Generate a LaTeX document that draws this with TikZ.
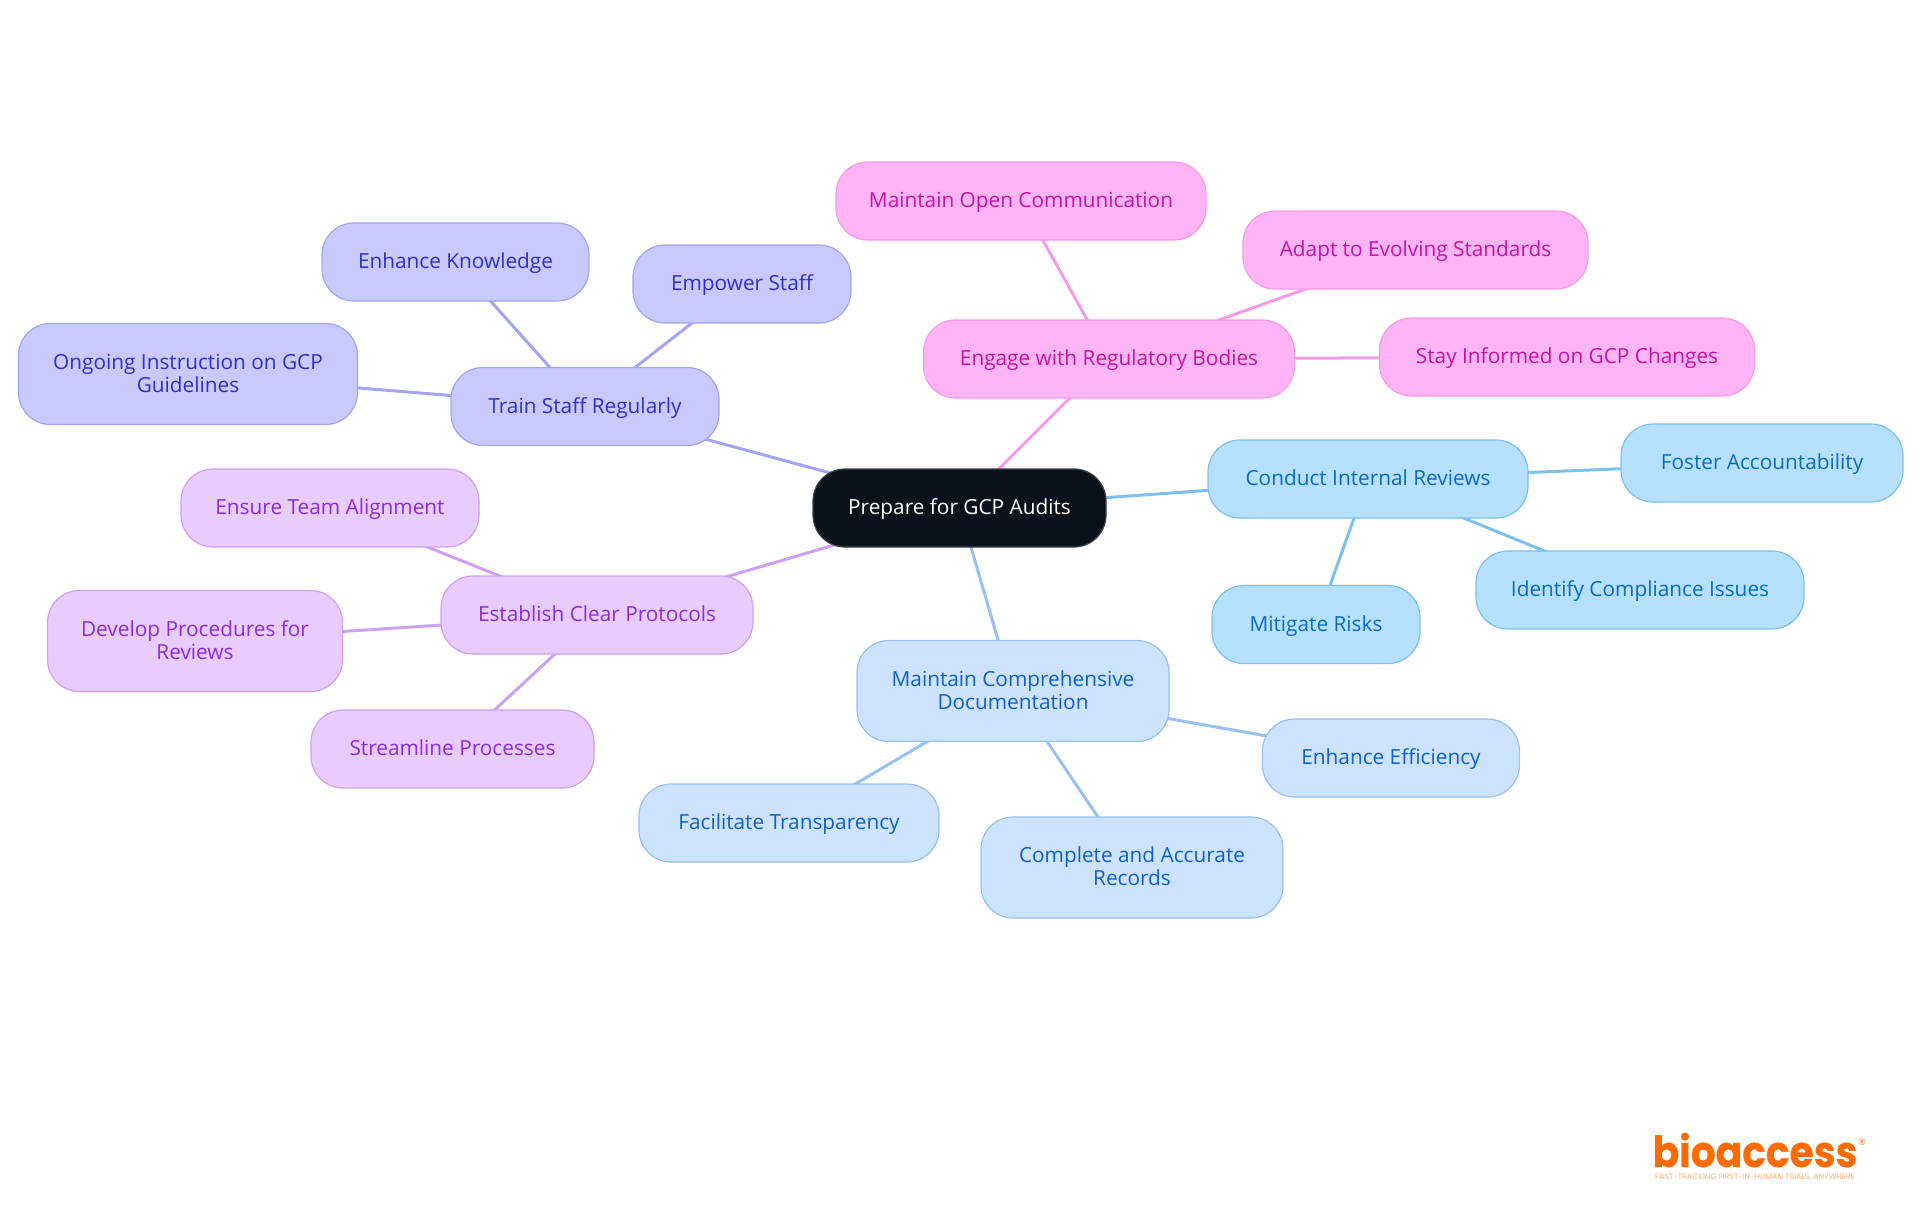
\documentclass[tikz,border=0pt]{standalone}
\usepackage{fontspec}
\setmainfont{Open Sans}
\newfontfamily\logofont[FakeStretch=0.91, FakeBold=0.4]{Poppins}
\newfontfamily\tagfont{Poppins}
\usetikzlibrary{backgrounds}
\definecolor{rootfill}{HTML}{0B111B}
\definecolor{trainfill}{HTML}{C8C9FD}
\definecolor{trainline}{HTML}{A3A4F3}
\definecolor{traintext}{HTML}{3030C8}
\definecolor{engagefill}{HTML}{FFB5F5}
\definecolor{engageline}{HTML}{F59BE6}
\definecolor{engagetext}{HTML}{C414A8}
\definecolor{reviewfill}{HTML}{B5E0FF}
\definecolor{reviewline}{HTML}{7CBFF0}
\definecolor{reviewtext}{HTML}{0A6BC0}
\definecolor{docfill}{HTML}{CDE3FD}
\definecolor{docline}{HTML}{96C1F1}
\definecolor{doctext}{HTML}{1060C8}
\definecolor{protofill}{HTML}{E8CCFE}
\definecolor{protoline}{HTML}{CFA0F2}
\definecolor{prototext}{HTML}{8A2BE0}
\definecolor{logoorange}{HTML}{FF6B00}

\begin{document}
\begin{tikzpicture}[x=0.5pt, y=-0.5pt]
        % ================= styles =================
        \tikzset{
            blob/.style={rectangle, rounded corners=16pt, line width=0.6pt, align=center, inner sep=0pt,
                minimum height=39pt, text height=9pt, text depth=2.5pt,
                font=\fontsize{10.4}{11.5}\selectfont},
            twolines/.style={minimum height=50.5pt, text height=20.5pt, text depth=2.5pt},
            rootblob/.style={blob, draw=rootfill!80!white, fill=rootfill, text=white},
            trainblob/.style={blob, draw=trainline, fill=trainfill, text=traintext},
            engageblob/.style={blob, draw=engageline, fill=engagefill, text=engagetext},
            reviewblob/.style={blob, draw=reviewline, fill=reviewfill, text=reviewtext},
            docblob/.style={blob, draw=docline, fill=docfill, text=doctext},
            protoblob/.style={blob, draw=protoline, fill=protofill, text=prototext},
            branch/.style={line width=1.5pt},
            logotext/.style={inner sep=0pt, anchor=base, text depth=0pt}
        }

        % page frame
        \useasboundingbox (0,0) rectangle (1920,1215);

        % ================= nodes =================

        % root
        \node[rootblob, minimum width=146.5pt] (root) at (959.5,508) {Prepare for GCP Audits};

        % top: regulatory bodies
        \node[engageblob, minimum width=185.5pt] (engage) at (1109,359) {Engage with Regulatory Bodies};
        \node[engageblob, minimum width=185pt] (open) at (1021,201) {Maintain Open Communication};
        \node[engageblob, minimum width=172.5pt] (adapt) at (1415.5,250) {Adapt to Evolving Standards};
        \node[engageblob, minimum width=187.5pt] (informed) at (1567,357) {Stay Informed on GCP Changes};

        % right: internal reviews
        \node[reviewblob, minimum width=160pt] (review) at (1368,479) {Conduct Internal Reviews};
        \node[reviewblob, minimum width=141pt] (foster) at (1762,463) {Foster Accountability};
        \node[reviewblob, minimum width=164pt] (identify) at (1640,590) {Identify Compliance Issues};
        \node[reviewblob, minimum width=104pt] (mitigate) at (1316,624.5) {Mitigate Risks};

        % bottom: documentation
        \node[docblob, twolines, minimum width=156pt] (doc) at (1013,691) {Maintain Comprehensive\\Documentation};
        \node[docblob, minimum width=128.5pt] (efficiency) at (1391,758) {Enhance Efficiency};
        \node[docblob, twolines, minimum width=151pt] (records) at (1132,867.5) {Complete and Accurate\\Records};
        \node[docblob, minimum width=150pt] (transparency) at (789,823) {Facilitate Transparency};

        % left: protocols
        \node[protoblob, minimum width=156pt] (protocols) at (597,615) {Establish Clear Protocols};
        \node[protoblob, minimum width=149pt] (alignment) at (330,508) {Ensure Team Alignment};
        \node[protoblob, twolines, minimum width=147.5pt] (procedures) at (195,641) {Develop Procedures for\\Reviews};
        \node[protoblob, minimum width=141.5pt] (streamline) at (452.5,749) {Streamline Processes};

        % upper left: staff training
        \node[trainblob, minimum width=134pt] (train) at (585,406.5) {Train Staff Regularly};
        \node[trainblob, twolines, minimum width=169.5pt] (ongoing) at (188,374) {Ongoing Instruction on GCP\\Guidelines};
        \node[trainblob, minimum width=133.5pt] (knowledge) at (455.5,262) {Enhance Knowledge};
        \node[trainblob, minimum width=109pt] (empower) at (742,284) {Empower Staff};

        % logo
        \node[logotext, text=logoorange, font=\logofont\bfseries\fontsize{21.5}{22}\selectfont] (logo) at (1755,1167) {bioaccess};
        \node[logotext, text=logoorange, font=\fontsize{4.5}{4.5}\selectfont] (logomark) at (1862,1145) {\textregistered};
        \node[logotext, text=logoorange!55!white, font=\tagfont\fontsize{3.95}{4}\selectfont] (logotag) at (1755,1179) {FAST-TRACKING FIRST-IN-HUMAN TRIALS, ANYWHERE};

        % ================= connectors =================
        \begin{pgfonlayer}{background}
            \draw[branch, engageline] (root.center) -- (engage.center);
            \draw[branch, engageline] (engage.center) -- (open.center);
            \draw[branch, engageline] (engage.center) -- (adapt.center);
            \draw[branch, engageline] (engage.center) -- (informed.center);
            \draw[branch, reviewline] (root.center) -- (review.center);
            \draw[branch, reviewline] (review.center) -- (foster.center);
            \draw[branch, reviewline] (review.center) -- (identify.center);
            \draw[branch, reviewline] (review.center) -- (mitigate.center);
            \draw[branch, docline] (root.center) -- (doc.center);
            \draw[branch, docline] (doc.center) -- (efficiency.center);
            \draw[branch, docline] (doc.center) -- (records.center);
            \draw[branch, docline] (doc.center) -- (transparency.center);
            \draw[branch, protoline] (root.center) -- (protocols.center);
            \draw[branch, protoline] (protocols.center) -- (alignment.center);
            \draw[branch, protoline] (protocols.center) -- (procedures.center);
            \draw[branch, protoline] (protocols.center) -- (streamline.center);
            \draw[branch, trainline] (root.center) -- (train.center);
            \draw[branch, trainline] (train.center) -- (ongoing.center);
            \draw[branch, trainline] (train.center) -- (knowledge.center);
            \draw[branch, trainline] (train.center) -- (empower.center);
        \end{pgfonlayer}

    \end{tikzpicture}
\end{document}
